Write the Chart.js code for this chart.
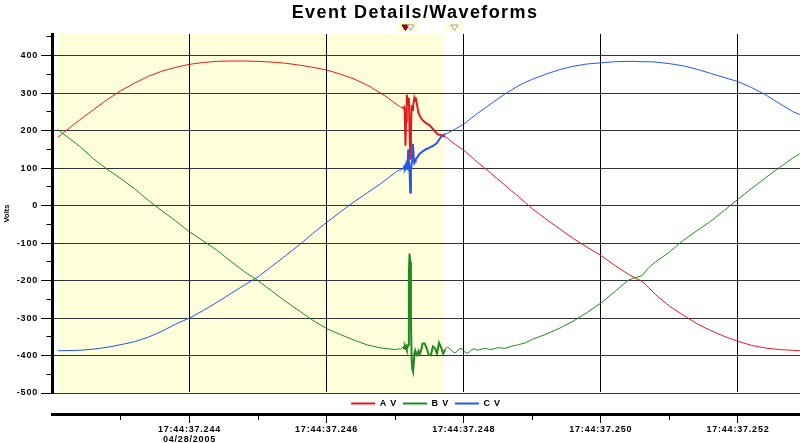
<!DOCTYPE html>
<html>
<head>
<meta charset="utf-8">
<title>Event Details/Waveforms</title>
<script src="https://cdn.jsdelivr.net/npm/chart.js@4/dist/chart.umd.min.js"></script>
<style>
  html, body { margin: 0; padding: 0; background: #ffffff; }
  canvas { display: block; }
</style>
</head>
<body>
<canvas id="waveforms" width="800" height="443"></canvas>
<script>
// ---- Recorded data -------------------------------------------------------
const chartTitle = 'Event Details/Waveforms';
const axisTitle = 'Volts';
const seriesNames = ['A V', 'B V', 'C V'];

// Sample times, ms after 17:44:37.244
const timeMs = [
  -1.92, -1.8, -1.6, -1.4, -1.2, -1.0, -0.8, -0.6, -0.4, -0.2,
  0, 0.2, 0.4, 0.6, 0.8, 1.0, 1.2, 1.4, 1.6, 1.8,
  2.0, 2.2, 2.4, 2.6, 2.8, 2.9, 3.0,
  3.04, 3.06, 3.08, 3.10, 3.12, 3.13, 3.14, 3.15, 3.16, 3.17, 3.18, 3.19, 3.20,
  3.21, 3.22, 3.23, 3.24, 3.25, 3.26, 3.27, 3.28, 3.29, 3.30,
  3.32, 3.34, 3.36, 3.38, 3.40, 3.43, 3.46, 3.49, 3.52, 3.55, 3.58, 3.61, 3.64, 3.67, 3.70, 3.73,
  3.76, 3.80, 3.84, 3.88, 3.92, 3.96, 4.00, 4.04, 4.08, 4.12, 4.16, 4.20,
  4.30, 4.40, 4.50, 4.60, 4.70, 4.80, 4.90, 5.00,
  5.2, 5.4, 5.6, 5.8, 6.0, 6.2, 6.4, 6.5, 6.6, 6.7, 6.8, 7.0, 7.2, 7.4, 7.6, 7.8, 8.0, 8.2, 8.4, 8.6, 8.8, 8.9
];

const voltsA = [
  182, 200, 229, 256, 283, 307, 327, 345, 359, 369,
  377, 382, 385, 386, 386, 385, 383, 380, 375, 369,
  362, 351, 338, 321, 299, 287, 273,
  268, 266, 262, 264, 258, 262, 252, 160, 225, 296, 282, 270, 288,
  200, 125, 190, 268, 255, 262, 276, 287, 280, 289,
  268, 248, 240, 233, 228, 223, 219, 216, 211, 205, 198, 192, 189, 188, 186, 184,
  180, 174, 168, 163, 158, 153, 148, 142, 135, 129, 122, 116,
  101, 86, 70, 55, 39, 24, 8, -8,
  -36, -62, -88, -111, -133, -159, -183, -193, -202, -219, -238, -268, -292, -315, -333, -349, -362, -373, -380, -384, -386, -387
];

const voltsB = [
  203, 186, 158, 125, 97, 72, 45, 14, -14, -41,
  -70, -94, -119, -148, -176, -200, -228, -255, -281, -306,
  -328, -344, -359, -372, -380, -382, -384,
  -383, -382, -383, -380, -376, -381, -374, -379, -375, -382, -378, -372, -180,
  -128, -150, -300, -405, -436, -442, -425, -395, -388, -398,
  -400, -388, -396, -385, -368, -368, -380, -398, -400, -376, -380, -395, -366, -378, -396, -383,
  -377, -382, -390, -393, -385, -380, -388, -394, -391, -384, -382, -386,
  -381, -384, -379, -381, -375, -371, -366, -357,
  -343, -327, -308, -285, -260, -230, -199, -192, -187, -165, -150, -124, -93, -67, -42, -13, 17, 46, 74, 101, 127, 138
];

const voltsC = [
  -387, -387, -386, -383, -378, -371, -363, -351, -335, -316,
  -300, -280, -258, -235, -212, -190, -162, -134, -105, -74,
  -45, -17, 10, 35, 60, 74, 88,
  93, 95, 94, 99, 97, 103, 100, 106, 99, 108, 103, 150, 118,
  100, 35, 90, 112, 120, 165, 130, 114, 118, 124,
  128, 134, 139, 141, 145, 148, 152, 153, 157, 159, 163, 167, 176, 184, 188, 191,
  193, 197, 201, 205, 209, 213, 218, 223, 229, 235, 240, 246,
  259, 272, 285, 298, 309, 320, 329, 337,
  351, 363, 372, 378, 381, 384, 385, 385, 384, 384, 383, 379, 373, 364, 353, 342, 331, 315, 296, 273, 251, 243
];

// Axis labels
const timeTickLabels = ['17:44:37.244', '17:44:37.246', '17:44:37.248', '17:44:37.250', '17:44:37.252'];
const dateLabel = '04/28/2005';

// Pre-trigger record window (shaded), burst window and cursor marks, in ms
const recordWindow = [-1.92, 3.715];
const burstWindow = [3.12, 3.73];
const cursorTimes = [3.15, 3.226, 3.865];

// ---- Drawing --------------------------------------------------------------
const FONT = "'Liberation Sans', Arial, Helvetica, sans-serif";
const NARROW = "'Liberation Sans Narrow', 'Liberation Sans', Arial, sans-serif";
Chart.defaults.font.family = FONT;
Chart.defaults.color = '#000';

const phaseColors = ['#e31a1c', '#1f8a1f', '#2456f0'];

function makeSeries(label, values, color) {
  return {
    label,
    data: timeMs.map((t, i) => ({ x: t, y: values[i] })),
    borderColor: color,
    backgroundColor: color,
    borderWidth: 1,
    pointRadius: 0,
    pointHoverRadius: 0,
    tension: 0,
    segment: {
      borderWidth: ctx => {
        const t0 = timeMs[ctx.p0DataIndex], t1 = timeMs[ctx.p1DataIndex];
        return (t0 >= burstWindow[0] && t1 <= burstWindow[1]) ? 2 : 1;
      }
    }
  };
}

const isMajorTime = v => v >= 0 && Math.abs(v % 2) < 1e-9;
const isMajorVolt = v => Math.abs(v % 100) < 1e-9;

const decorations = {
  id: 'decorations',
  beforeUpdate(chart) {
    // slightly spaced lettering for the axis and legend text
    chart.ctx.letterSpacing = '0.8px';
  },
  beforeDraw(chart) {
    const { ctx, chartArea: a, scales: { x } } = chart;
    ctx.letterSpacing = '0.8px';
    ctx.save();
    ctx.fillStyle = '#ffffff';
    ctx.fillRect(0, 0, chart.width, chart.height);
    const x0 = x.getPixelForValue(recordWindow[0]);
    const x1 = x.getPixelForValue(recordWindow[1]);
    ctx.fillStyle = '#ffffdc';
    ctx.fillRect(x0, a.top, x1 - x0, a.bottom - a.top);
    ctx.restore();
  },
  afterDraw(chart) {
    const { ctx, chartArea: a, scales: { x } } = chart;
    ctx.save();
    // chart title
    ctx.letterSpacing = '1.4px';
    ctx.font = 'bold 18px ' + FONT;
    ctx.fillStyle = '#000';
    ctx.textAlign = 'center';
    ctx.textBaseline = 'middle';
    ctx.fillText(chartTitle, chart.width / 2 + 15, 13);

    // value axis title
    ctx.letterSpacing = '0px';
    ctx.save();
    ctx.translate(7, (a.top + a.bottom) / 2);
    ctx.rotate(-Math.PI / 2);
    ctx.font = 'bold 7.5px ' + NARROW;
    ctx.fillText(axisTitle, 0, 0);
    ctx.restore();

    // cursor marks above the plot
    const ty = a.top - 9;
    cursorTimes.forEach(t => {
      const px = x.getPixelForValue(t);
      ctx.fillStyle = 'rgba(255,255,215,0.8)';
      ctx.fillRect(px - 9, ty - 3, 18, 10);
    });
    cursorTimes.forEach((t, i) => {
      const px = x.getPixelForValue(t);
      ctx.beginPath();
      ctx.moveTo(px - 3.5, ty);
      ctx.lineTo(px + 3.5, ty);
      ctx.lineTo(px, ty + 5.5);
      ctx.closePath();
      if (i === 0) {
        ctx.fillStyle = '#c00000';
        ctx.fill();
        ctx.strokeStyle = '#500000';
      } else {
        ctx.fillStyle = '#ffffff';
        ctx.fill();
        ctx.strokeStyle = '#9a9a9a';
      }
      ctx.lineWidth = 1;
      ctx.stroke();
    });
    ctx.restore();
  }
};

new Chart(document.getElementById('waveforms'), {
  type: 'line',
  data: {
    datasets: [
      makeSeries(seriesNames[0], voltsA, phaseColors[0]),
      makeSeries(seriesNames[1], voltsB, phaseColors[1]),
      makeSeries(seriesNames[2], voltsC, phaseColors[2])
    ]
  },
  options: {
    responsive: false,
    animation: false,
    devicePixelRatio: 1,
    layout: { padding: { top: 34, left: 0, right: 0, bottom: 0 } },
    interaction: { mode: null },
    plugins: {
      title: { display: false },
      tooltip: { enabled: false },
      legend: {
        position: 'bottom',
        fullSize: false,
        align: 'center',
        maxHeight: 21,
        labels: {
          boxWidth: 24,
          boxHeight: 2,
          padding: 6,
          color: '#000',
          font: { size: 9, weight: 'bold' },
          generateLabels(chart) {
            return Chart.defaults.plugins.legend.labels.generateLabels(chart)
              .map(item => Object.assign(item, { lineWidth: 0 }));
          }
        }
      }
    },
    scales: {
      x: {
        type: 'linear',
        position: 'bottom',
        weight: 2000,
        min: -2.005,
        max: 8.905,
        afterFit(scale) { scale.height = 29; },
        border: { display: true, color: '#000', width: 3 },
        grid: {
          color: c => isMajorTime(c.tick.value) ? '#000' : 'rgba(0,0,0,0)',
          lineWidth: 1,
          drawTicks: true,
          tickLength: 9,
          tickWidth: 1,
          tickColor: c => c.tick.value < -1.5 ? 'rgba(0,0,0,0)' : '#000',
          tickBorderDash: c => isMajorTime(c.tick.value) ? [] : [4, 40]
        },
        ticks: {
          stepSize: 1,
          includeBounds: false,
          autoSkip: false,
          maxRotation: 0,
          minRotation: 0,
          padding: 2,
          color: '#000',
          font: { size: 9, weight: 'bold', lineHeight: 1.05 },
          callback(value) {
            if (!isMajorTime(value)) return '';
            const idx = Math.round(value / 2);
            const label = timeTickLabels[idx];
            if (label === undefined) return '';
            return idx === 0 ? [label, dateLabel] : label;
          }
        }
      },
      y: {
        type: 'linear',
        position: 'left',
        min: -500,
        max: 458,
        afterFit(scale) { scale.width = 52; },
        border: { display: true, color: '#000', width: 3 },
        grid: {
          color: c => isMajorVolt(c.tick.value) ? '#333333' : 'rgba(0,0,0,0)',
          lineWidth: 1,
          drawTicks: true,
          tickLength: 11,
          tickWidth: 1,
          tickColor: '#000',
          tickBorderDash: c => isMajorVolt(c.tick.value) ? [] : [0, 5.5, 20]
        },
        ticks: {
          stepSize: 50,
          includeBounds: false,
          padding: 3,
          color: '#000',
          font: { size: 9, weight: 'bold' },
          callback: v => isMajorVolt(v) ? String(v) : ''
        },
        title: { display: false }
      }
    }
  },
  plugins: [decorations]
});
</script>
</body>
</html>
